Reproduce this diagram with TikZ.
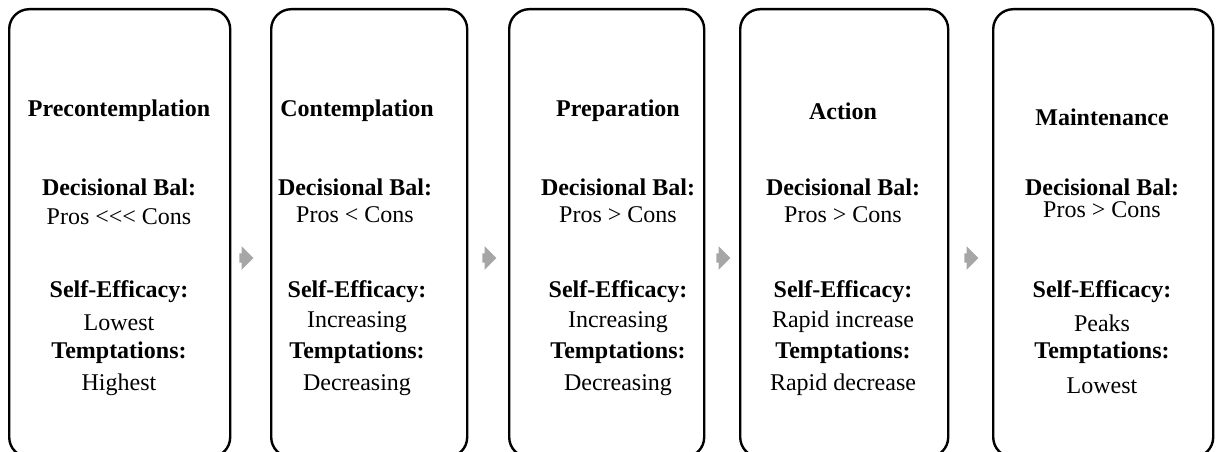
\documentclass[tikz,border=0pt]{standalone}
\usepackage{fontspec}
\setmainfont{Liberation Serif}
\usetikzlibrary{shapes.arrows}
\definecolor{arrowgray}{HTML}{A6A6A6}
\begin{document}
\begin{tikzpicture}[x=1pt,y=-1pt,
  stage/.style={draw=black, line width=2.4pt, rounded corners=20pt, anchor=north west, minimum height=448pt, inner sep=0pt},
  hd/.style={font=\fontsize{24}{28}\selectfont\bfseries, inner sep=0pt},
  tx/.style={font=\fontsize{24}{28}\selectfont, inner sep=0pt},
  blockarrow/.style={single arrow, fill=arrowgray, draw=none, minimum height=14pt, minimum width=17pt, inner sep=4.5pt, single arrow tip angle=90}]
\useasboundingbox (0,0) rectangle (1217,452);
% boxes
\node[stage, minimum width=221pt] (b1) at (8,8) {};
\node[stage, minimum width=196pt] (b2) at (270,8) {};
\node[stage, minimum width=195pt] (b3) at (508,8) {};
\node[stage, minimum width=208pt] (b4) at (739,8) {};
\node[stage, minimum width=220pt] (b5) at (992,8) {};
% arrows
\node[blockarrow] (a1) at (244,258) {};
\node[blockarrow] (a2) at (487,258) {};
\node[blockarrow] (a3) at (721,258) {};
\node[blockarrow] (a4) at (969,258) {};
% box 1
\node[hd] (t1) at (119,111) {Precontemplation};
\node[hd] (d1) at (119,187) {Decisional Bal:};
\node[tx] (p1) at (119,217) {Pros <\kern0pt<\kern0pt< Cons};
\node[hd] (s1) at (119,292) {Self-Efficacy:};
\node[tx] (v1) at (119,323) {Lowest};
\node[hd] (m1) at (119,353) {Temptations:};
\node[tx] (w1) at (119,385) {Highest};
% box 2
\node[hd] (t2) at (357,111) {Contemplation};
\node[hd] (d2) at (355,187) {Decisional Bal:};
\node[tx] (p2) at (355,215) {Pros < Cons};
\node[hd] (s2) at (357,292) {Self-Efficacy:};
\node[tx] (v2) at (357,322) {Increasing};
\node[hd] (m2) at (357,353) {Temptations:};
\node[tx] (w2) at (357,385) {Decreasing};
% box 3
\node[hd] (t3) at (618,111) {Preparation};
\node[hd] (d3) at (618,187) {Decisional Bal:};
\node[tx] (p3) at (618,215) {Pros > Cons};
\node[hd] (s3) at (618,292) {Self-Efficacy:};
\node[tx] (v3) at (618,322) {Increasing};
\node[hd] (m3) at (618,353) {Temptations:};
\node[tx] (w3) at (618,385) {Decreasing};
% box 4
\node[hd] (t4) at (843,111) {Action};
\node[hd] (d4) at (843,187) {Decisional Bal:};
\node[tx] (p4) at (843,215) {Pros > Cons};
\node[hd] (s4) at (843,292) {Self-Efficacy:};
\node[tx] (v4) at (843,322) {Rapid increase};
\node[hd] (m4) at (843,353) {Temptations:};
\node[tx] (w4) at (843,385) {Rapid decrease};
% box 5
\node[hd] (t5) at (1102,117) {Maintenance};
\node[hd] (d5) at (1102,187) {Decisional Bal:};
\node[tx] (p5) at (1102,210) {Pros > Cons};
\node[hd] (s5) at (1102,292) {Self-Efficacy:};
\node[tx] (v5) at (1102,323) {Peaks};
\node[hd] (m5) at (1102,353) {Temptations:};
\node[tx] (w5) at (1102,386) {Lowest};
\end{tikzpicture}
\end{document}
